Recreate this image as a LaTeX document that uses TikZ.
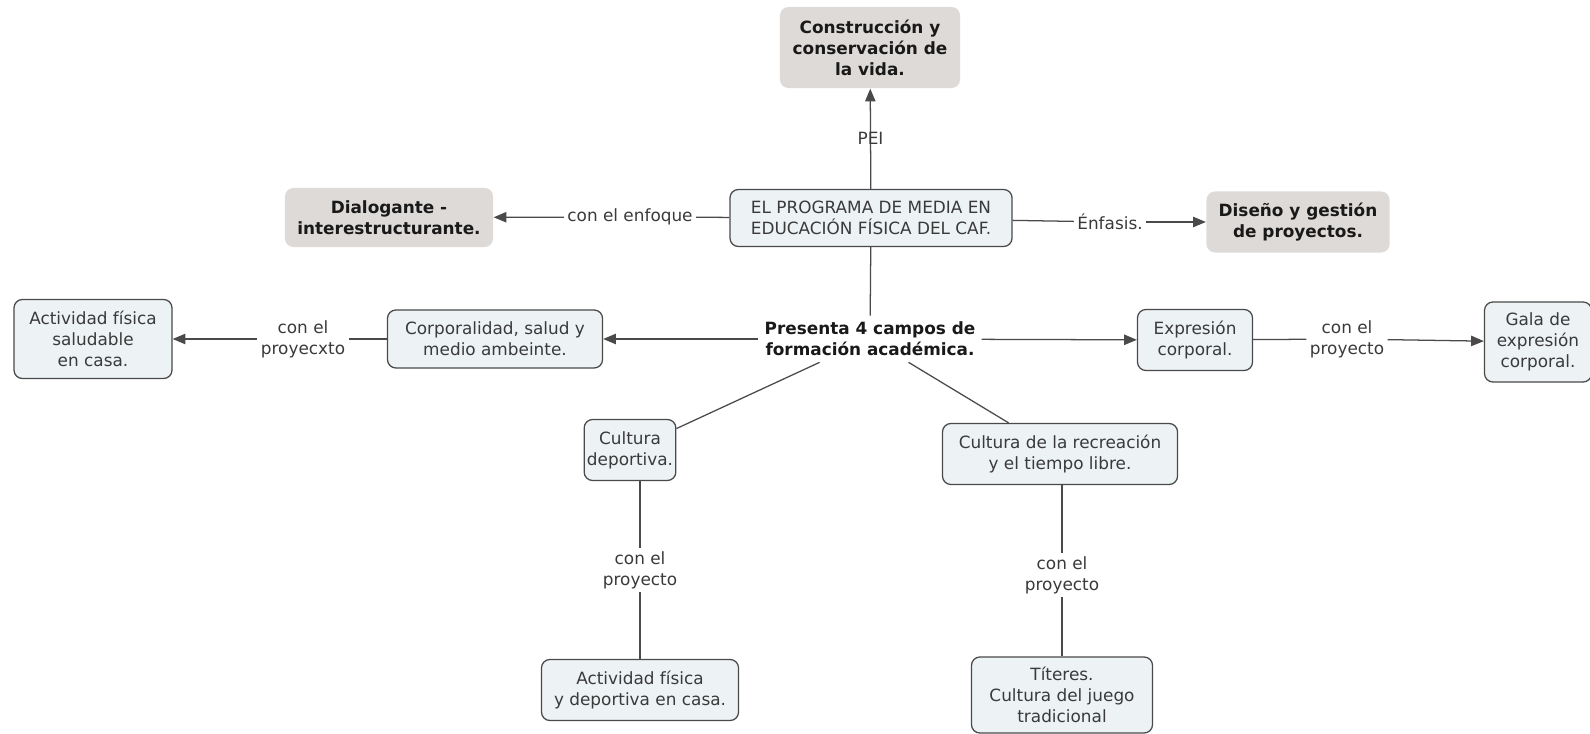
\documentclass[tikz,border=0pt]{standalone}
\usepackage{fontspec}
\setmainfont{DejaVu Sans}
\usepackage{xcolor}
\usetikzlibrary{arrows.meta}

\definecolor{cajaazul}{HTML}{EDF2F5}
\definecolor{cajagris}{HTML}{DEDAD8}
\definecolor{linea}{HTML}{4A4A4A}
\definecolor{texto}{HTML}{3A3A3A}

\newcommand{\letra}{\fontsize{12}{15}\selectfont}

\tikzset{
  concepto/.style={draw=linea, line width=0.9pt, fill=cajaazul,
                   rounded corners=6pt, align=center, text=texto, inner sep=2pt},
  destacado/.style={fill=cajagris, rounded corners=6pt, align=center,
                    font=\letra\bfseries, text=black!90, inner sep=2pt},
  enlace/.style={align=center, text=texto, inner sep=2pt},
  flecha/.style={-{Triangle[length=3.2mm,width=2.6mm]}},
}

\begin{document}
\begin{tikzpicture}[x=0.025cm, y=-0.025cm, line width=0.9pt, color=linea,
                    font=\letra]
  \useasboundingbox (0,0) rectangle (1590,734);
  % conceptos
  \node[destacado, minimum width=4.5cm, minimum height=2.025cm] (vida) at (870,47.5)
    {Construcción y\\conservación de\\la vida.};
  \node[concepto, minimum width=7.05cm, minimum height=1.425cm] (programa) at (871,218)
    {EL PROGRAMA DE MEDIA EN\\EDUCACIÓN FÍSICA DEL CAF.};
  \node[destacado, minimum width=5.2cm, minimum height=1.475cm] (dialogante) at (389,217.5)
    {Dialogante -\\interestructurante.};
  \node[destacado, minimum width=4.575cm, minimum height=1.525cm] (diseno) at (1298,222)
    {Diseño y gestión\\de proyectos.};
  \node[enlace, font=\letra\bfseries, text=black!90, inner sep=4pt] (presenta) at (870,339)
    {Presenta 4 campos de\\formación académica.};
  \node[concepto, minimum width=5.375cm, minimum height=1.45cm] (corporalidad) at (495,339)
    {Corporalidad, salud y\\medio ambeinte.};
  \node[concepto, minimum width=3.95cm, minimum height=1.975cm] (saludable) at (93,339)
    {Actividad física\\saludable\\en casa.};
  \node[concepto, minimum width=2.875cm, minimum height=1.525cm] (expresion) at (1195,340)
    {Expresión\\corporal.};
  \node[concepto, minimum width=2.675cm, minimum height=2cm] (gala) at (1538,342)
    {Gala de\\expresión\\corporal.};
  \node[concepto, minimum width=2.275cm, minimum height=1.525cm] (deportiva) at (630,450)
    {Cultura\\deportiva.};
  \node[concepto, minimum width=5.875cm, minimum height=1.525cm] (recreacion) at (1060,454)
    {Cultura de la recreación\\y el tiempo libre.};
  \node[concepto, minimum width=4.925cm, minimum height=1.525cm] (casa) at (640,690)
    {Actividad física\\y deportiva en casa.};
  \node[concepto, minimum width=4.525cm, minimum height=1.9cm] (titeres) at (1062,695)
    {Títeres.\\Cultura del juego\\tradicional};
  % frases de enlace
  \node[enlace] (lEnfoque) at (630,217) {con el enfoque};
  \node[enlace] (lEnfasis) at (1110,222) {Énfasis.};
  \node[enlace] (lProyecxto) at (303,339) {con el\\proyecxto};
  \node[enlace] (lGala) at (1347,339) {con el\\proyecto};
  \node[enlace] (lCasa) at (640,570) {con el\\proyecto};
  \node[enlace] (lTiteres) at (1062,575) {con el\\proyecto};
  % conectores
  \draw[flecha] (programa) -- node[enlace] (lPEI) {PEI} (vida);
  \draw (programa) -- (lEnfoque);
  \draw[flecha] (lEnfoque) -- (dialogante);
  \draw (programa) -- (lEnfasis);
  \draw[flecha] (lEnfasis) -- (diseno);
  \draw (programa) -- (presenta);
  \draw[flecha] (presenta) -- (corporalidad);
  \draw (corporalidad) -- (lProyecxto);
  \draw[flecha] (lProyecxto) -- (saludable);
  \draw[flecha] (presenta) -- (expresion);
  \draw (expresion) -- (lGala);
  \draw[flecha] (lGala) -- (gala);
  \draw (presenta) -- (deportiva);
  \draw (presenta) -- (recreacion);
  \draw (lCasa |- deportiva.south) -- (lCasa);
  \draw (lCasa) -- (casa);
  \draw (lTiteres |- recreacion.south) -- (lTiteres);
  \draw (lTiteres) -- (titeres);
\end{tikzpicture}
\end{document}
